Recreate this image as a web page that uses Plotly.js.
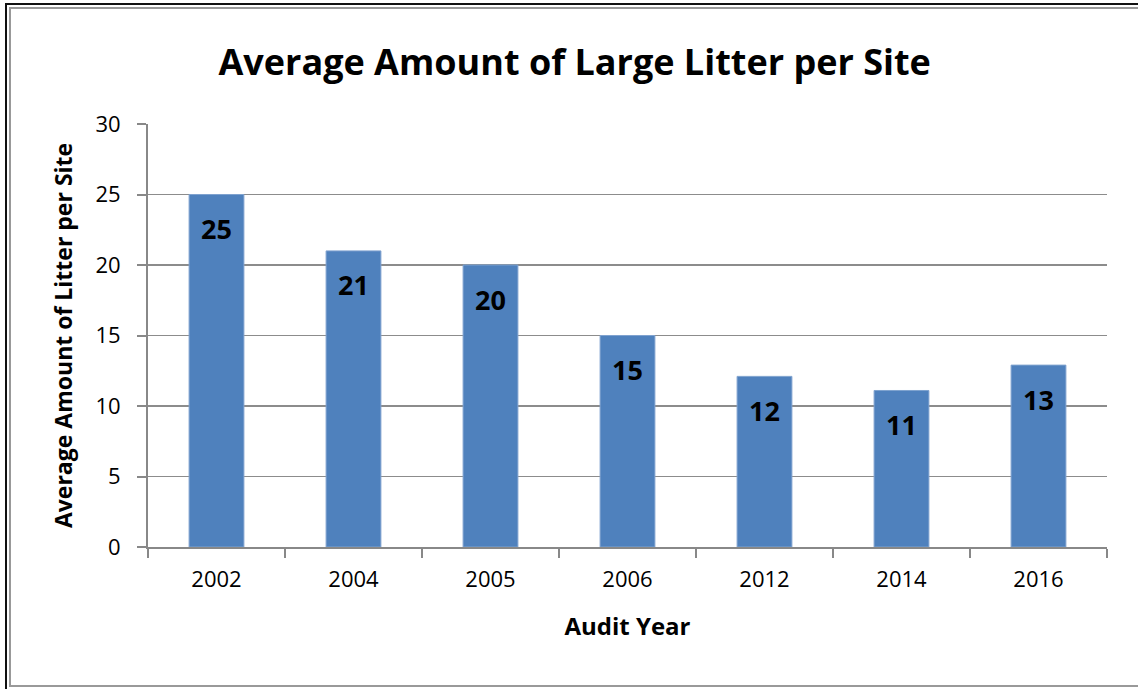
<!DOCTYPE html>
<html>
<head>
<meta charset="utf-8">
<script src="https://cdn.plot.ly/plotly-3.0.1.min.js"></script>
<style>
  html, body { margin: 0; padding: 0; background: #fff; }
  #wrap { position: relative; width: 1138px; height: 689px; overflow: hidden; }
  #chart { position: absolute; left: 0; top: 0; width: 1138px; height: 689px; }
  .fr { position: absolute; pointer-events: none; }
</style>
</head>
<body>
<div id="wrap">
  <div id="chart"></div>
  <div class="fr" style="left:5px; top:3px; width:1140px; height:2px; background:#111;"></div>
  <div class="fr" style="left:5px; top:3px; width:2px; height:690px; background:#111;"></div>
  <div class="fr" style="left:9px; top:7px; width:1140px; height:2px; background:#999;"></div>
  <div class="fr" style="left:9px; top:7px; width:2px; height:680px; background:#999;"></div>
  <div class="fr" style="left:9px; top:685px; width:1140px; height:2px; background:#999;"></div>
</div>
<script>
const years = ["2002", "2004", "2005", "2006", "2012", "2014", "2016"];
const avgLitter = [25, 21, 20, 15, 12.1, 11.1, 12.9];
const labelText = ["25", "21", "20", "15", "12", "11", "13"];
const yTicks = [0, 5, 10, 15, 20, 25, 30];

const FONT = "Open Sans, Noto Sans, sans-serif";

const trace = {
  type: "bar",
  x: years,
  y: avgLitter,
  marker: { color: "#4F81BD", line: { color: "#7FA2CF", width: 1 } },
  width: 0.4,
  hoverinfo: "skip"
};

// category axis: annotation x given as category index
const annotations = years.map((yr, i) => ({
  x: i, y: avgLitter[i], xref: "x", yref: "y",
  text: "<b>" + labelText[i] + "</b>",
  showarrow: false, yshift: -34,
  font: { family: FONT, size: 27, color: "#000" }
}));

const layout = {
  width: 1138, height: 689,
  margin: { l: 148, r: 31, t: 124, b: 142 },
  paper_bgcolor: "#fff", plot_bgcolor: "#fff",
  showlegend: false,
  title: {
    text: "<b>Average Amount of Large Litter per Site</b>",
    font: { family: FONT, size: 36, color: "#000" },
    x: 0.505, xanchor: "center", xref: "container",
    y: 0.91, yanchor: "middle", yref: "container"
  },
  xaxis: {
    type: "category",
    categoryorder: "array", categoryarray: years,
    range: [-0.5, years.length - 0.5],
    tickson: "boundaries",
    ticks: "outside", ticklen: 9, tickcolor: "#888", tickwidth: 2,
    showline: true, linecolor: "#888", linewidth: 2,
    showgrid: false,
    tickangle: 0,
    ticklabelstandoff: 12,
    tickfont: { family: FONT, size: 22, color: "#000" },
    title: { text: "<b>Audit Year</b>", font: { family: FONT, size: 24, color: "#000" }, standoff: 26 }
  },
  yaxis: {
    range: [0, 30],
    tickvals: yTicks,
    ticks: "outside", ticklen: 9, tickcolor: "#888", tickwidth: 2,
    showline: true, linecolor: "#888", linewidth: 2,
    showgrid: true, gridcolor: "#8c8c8c", gridwidth: 1.5,
    zeroline: false,
    ticklabelstandoff: 12,
    tickfont: { family: FONT, size: 22, color: "#000" },
    title: { text: "<b>Average Amount of Litter per Site</b>", font: { family: FONT, size: 23, color: "#000" }, standoff: 16 }
  },
  annotations: annotations
};

Plotly.newPlot("chart", [trace], layout, { displayModeBar: false, staticPlot: true });
</script>
</body>
</html>
